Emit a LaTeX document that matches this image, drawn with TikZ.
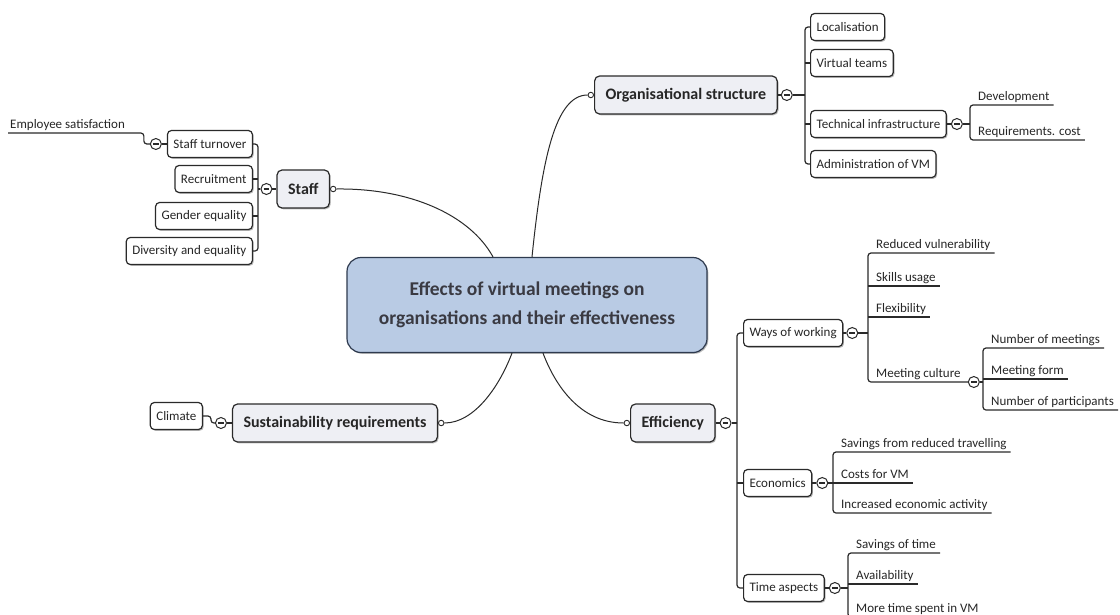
\documentclass[tikz,border=0pt]{standalone}
\usepackage{fontspec}
\setmainfont{Carlito}
\usetikzlibrary{shadows,calc,positioning}
\definecolor{ink}{HTML}{2A2A2A}
\definecolor{txt}{HTML}{262626}
\definecolor{lvlone}{HTML}{EEEFF4}
\definecolor{cfill}{HTML}{B9CBE4}
\definecolor{cdraw}{HTML}{2E3A4E}
\definecolor{ctxt}{HTML}{3A3A42}
\tikzset{
  boxbase/.style={rounded corners=4pt, draw=ink, line width=1.2pt, text=txt,
    drop shadow={shadow xshift=1.3pt, shadow yshift=-1.3pt, fill=black!50, opacity=0.55}},
  centraltopic/.style={boxbase, rounded corners=14pt, fill=cfill, draw=cdraw, text=ctxt,
    minimum width=360pt, minimum height=95pt, align=center,
    font=\bfseries\fontsize{19.5}{29}\selectfont},
  topicone/.style={boxbase, rounded corners=5pt, fill=lvlone, minimum height=38pt,
    inner xsep=11pt, font=\bfseries\fontsize{16}{19}\selectfont},
  topictwo/.style={boxbase, fill=white, minimum height=27pt, inner xsep=6pt,
    font=\fontsize{13}{15}\selectfont},
  leaf/.style={inner xsep=4pt, inner ysep=1.5pt, text=txt, font=\fontsize{13}{15}\selectfont,
    text height=9.5pt, text depth=3pt, anchor=south west},
  link/.style={draw=ink, line width=1.2pt},
  trunk/.style={link, rounded corners=3pt},
  branchcurve/.style={draw=ink, line width=1pt},
  knob/.style={circle, draw=ink, fill=white, line width=0.9pt, minimum size=5.5pt, inner sep=0pt},
  fold/.style={circle, draw=ink, fill=white, line width=1pt, minimum size=11pt, inner sep=0pt,
    path picture={\draw[ink, line width=1.1pt] ([xshift=-2.8pt]path picture bounding box.center)
      -- ([xshift=2.8pt]path picture bounding box.center);}},
}
\begin{document}
\begin{tikzpicture}[x=1pt, y=-1pt]
\clip (0,0) rectangle (1120,614);
\fill[white] (0,0) rectangle (1120,614);

% central topic
\node[centraltopic] (C) at (527,305) {Effects of virtual meetings on\\organisations and their effectiveness};

% main topics
\node[topicone, anchor=east] (staff) at (330,189) {Staff};
\node[topicone, anchor=west] (org) at (594,95) {Organisational structure};
\node[topicone, anchor=west] (eff) at (630,423) {Efficiency};
\node[topicone, anchor=east] (sus) at (438,423) {Sustainability requirements};

\node[knob, right=0pt of staff] (staffK) {};
\node[knob, left=0pt of org] (orgK) {};
\node[knob, left=0pt of eff] (effK) {};
\node[knob, right=0pt of sus] (susK) {};

\node[fold, left=4pt of staff] (staffF) {};
\node[fold, right=3pt of org] (orgF) {};
\node[fold, right=4pt of eff] (effF) {};
\node[fold, left=5pt of sus] (susF) {};

% curves from centre
\draw[branchcurve] ($(C.north)+(-34,0)$) .. controls (470,215) and (410,188) .. (staffK.east);
\draw[branchcurve] ($(C.north)+(5,0)$) .. controls (542,160) and (555,95) .. (orgK.west);
\draw[branchcurve] ($(C.south)+(16,0)$) .. controls (555,385) and (580,423) .. (effK.west);
\draw[branchcurve] ($(C.south)+(-15,0)$) .. controls (500,385) and (475,423) .. (susK.east);

% ---- Staff
\coordinate (staffT) at (258,189);
\node[topictwo, anchor=east] (st) at (253,144) {Staff turnover};
\node[topictwo, anchor=east] (rec) at (253,179) {Recruitment};
\node[topictwo, anchor=east] (gen) at (253,216) {Gender equality};
\node[topictwo, anchor=east] (div) at (253,251) {Diversity and equality};
\draw[link] (staffF.east) -- (staff.west);
\draw[link] (staffF.west) -- (staffF.west -| staffT);
\draw[trunk] (st.east) -- (st.east -| staffT) -- (div.east -| staffT) -- (div.east);
\draw[link] (rec.east) -- (rec.east -| staffT);
\draw[link] (gen.east) -- (gen.east -| staffT);
\node[fold, left=5pt of st] (stF) {};
\draw[link] (stF.east) -- (st.west);
\node[leaf, inner xsep=2pt] (es) at (8,133) {Employee satisfaction};
\coordinate (esE) at ($(stF.west)+(-6,0)$);
\draw[trunk] (es.south west) -- (es.south west -| esE) -- (esE) -- (stF.west);

% ---- Organisational structure
\coordinate (orgT) at (805,95);
\node[topictwo, anchor=west] (loc) at (810,27) {Localisation};
\node[topictwo, anchor=west] (vt) at (810,63) {Virtual teams};
\node[topictwo, anchor=west] (ti) at (810,124) {Technical infrastructure};
\node[topictwo, anchor=west] (adm) at (810,164) {Administration of VM};
\draw[link] (org.east) -- (orgF.west);
\draw[link] (orgF.east) -- (orgF.east -| orgT);
\draw[trunk] (loc.west) -- (loc.west -| orgT) -- (adm.west -| orgT) -- (adm.west);
\draw[link] (vt.west) -- (vt.west -| orgT);
\draw[link] (ti.west) -- (ti.west -| orgT);

\node[fold, right=4pt of ti] (tiF) {};
\coordinate (tiT) at (970,124);
\node[leaf] (dev) at (974,105) {Development};
\node[leaf] (req) at (974,140) {Requirements. cost};
\draw[link] (ti.east) -- (tiF.west);
\draw[link] (tiF.east) -- (tiF.east -| tiT);
\draw[trunk] (dev.south east) -- (dev.south west -| tiT) -- (req.south west -| tiT) -- (req.south east);

% ---- Sustainability
\node[topictwo, anchor=east] (clim) at (203,416) {Climate};
\draw[link] (susF.east) -- (sus.west);
\draw[trunk] (clim.east) -| ($(susF.west)+(-4,0)$) -- (susF.west);

% ---- Efficiency
\coordinate (effT) at (737,423);
\node[topictwo, anchor=west] (wow) at (743,333) {Ways of working};
\node[topictwo, anchor=west] (eco) at (743,483) {Economics};
\node[topictwo, anchor=west] (ta) at (743,588) {Time aspects};
\draw[link] (eff.east) -- (effF.west);
\draw[link] (effF.east) -- (effF.east -| effT);
\draw[trunk] (wow.west) -- (wow.west -| effT) -- (ta.west -| effT) -- (ta.west);
\draw[link] (eco.west) -- (eco.west -| effT);

% Ways of working
\node[fold, right=3pt of wow] (wowF) {};
\coordinate (wowT) at (868,333);
\node[leaf] (rv) at (872,253) {Reduced vulnerability};
\node[leaf] (sk) at (872,286) {Skills usage};
\node[leaf] (fl) at (872,317) {Flexibility};
\node[leaf] (mc) at (872,382) {Meeting culture};
\node[fold] (mcF) at ($(mc.south east)+(9,0)$) {};
\draw[link] (wow.east) -- (wowF.west);
\draw[link] (wowF.east) -- (wowF.east -| wowT);
\draw[trunk] (rv.south east) -- (rv.south west -| wowT) -- (mc.south west -| wowT) -- (mcF.west);
\draw[link] (sk.south west -| wowT) -- (sk.south east);
\draw[link] (fl.south west -| wowT) -- (fl.south east);

% Meeting culture
\coordinate (mcT) at (983,382);
\node[leaf] (nm) at (987,348) {Number of meetings};
\node[leaf] (mf) at (987,379) {Meeting form};
\node[leaf] (np) at (987,410) {Number of participants};
\draw[link] (mcF.east) -- (mcF.east -| mcT);
\draw[trunk] (nm.south east) -- (nm.south west -| mcT) -- (np.south west -| mcT) -- (np.south east);
\draw[link] (mf.south west -| mcT) -- (mf.south east);

% Economics
\node[fold, right=4pt of eco] (ecoF) {};
\coordinate (ecoT) at (833,483);
\node[leaf] (sv) at (837,452) {Savings from reduced travelling};
\node[leaf] (cv) at (837,483) {Costs for VM};
\node[leaf] (ie) at (837,513) {Increased economic activity};
\draw[link] (eco.east) -- (ecoF.west);
\draw[link] (ecoF.east) -- (ecoF.east -| ecoT);
\draw[trunk] (sv.south east) -- (sv.south west -| ecoT) -- (ie.south west -| ecoT) -- (ie.south east);
\draw[link] (cv.south west -| ecoT) -- (cv.south east);

% Time aspects
\node[fold, right=4pt of ta] (taF) {};
\coordinate (taT) at (848,588);
\node[leaf] (so) at (852,553) {Savings of time};
\node[leaf] (av) at (852,584) {Availability};
\node[leaf] (mt) at (852,617) {More time spent in VM};
\draw[link] (ta.east) -- (taF.west);
\draw[link] (taF.east) -- (taF.east -| taT);
\draw[trunk] (so.south east) -- (so.south west -| taT) -- (mt.south west -| taT) -- (mt.south east);
\draw[link] (av.south west -| taT) -- (av.south east);
\end{tikzpicture}
\end{document}
